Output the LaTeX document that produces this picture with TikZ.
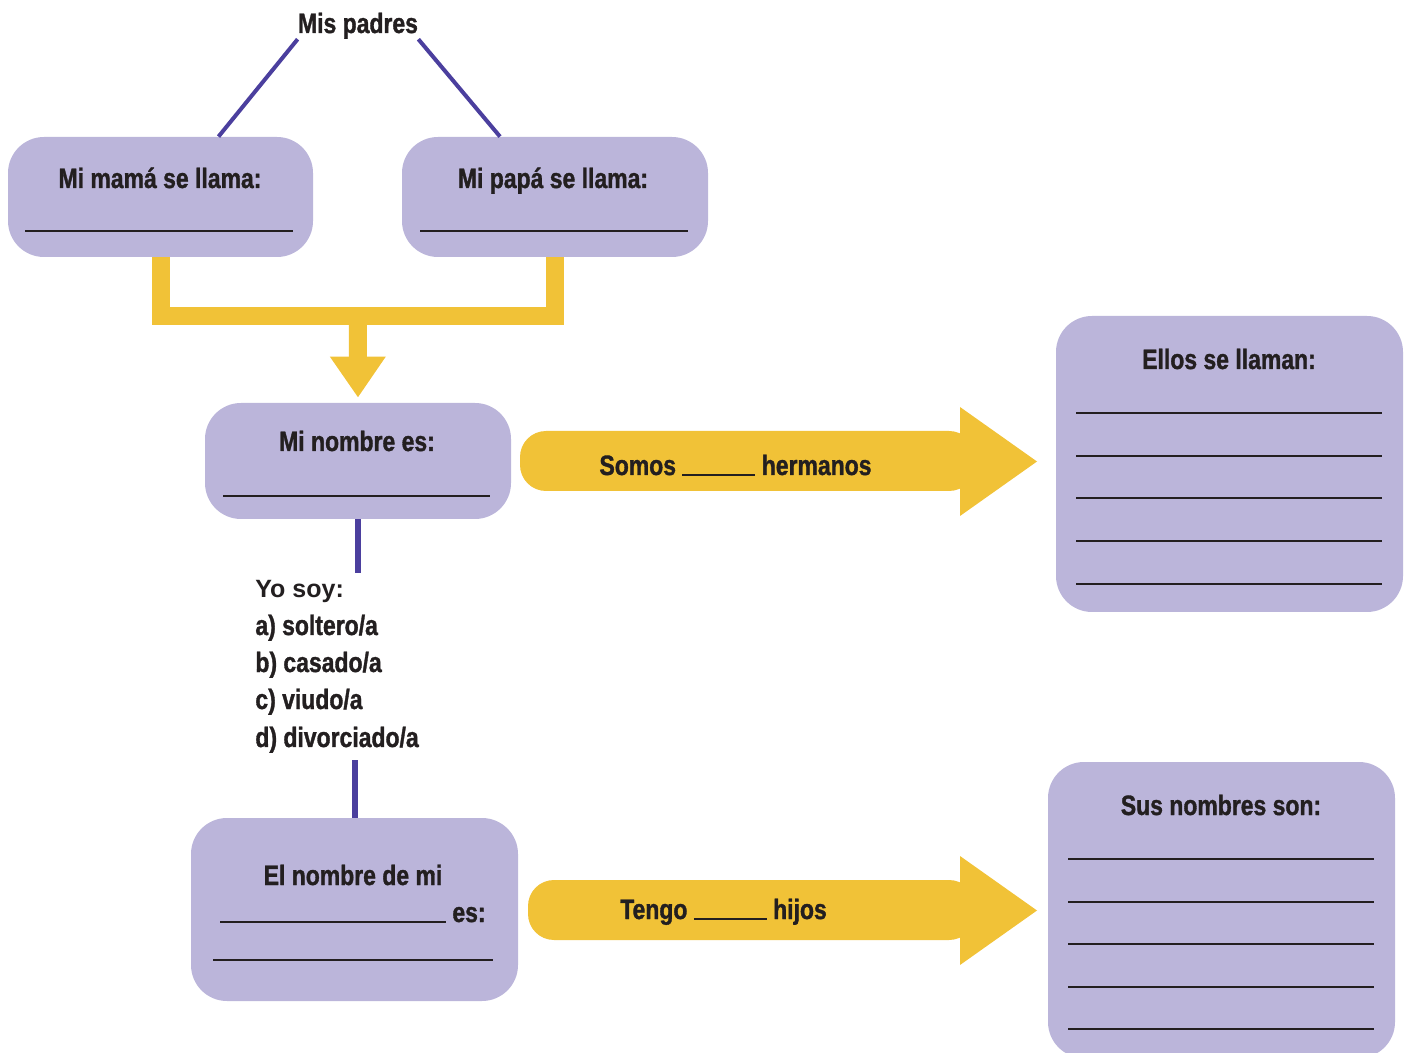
\documentclass[tikz,border=0pt]{standalone}
\usepackage{fontspec}
\setmainfont{Liberation Sans}
\newfontfamily\estrecha{Liberation Sans}[FakeStretch=0.82, BoldFeatures={FakeBold=1.2}]
\usetikzlibrary{positioning,arrows.meta,calc}
\definecolor{lila}{HTML}{BBB5DA}
\definecolor{amarillo}{HTML}{F1C237}
\definecolor{morado}{HTML}{4B3F9E}
\definecolor{tinta}{HTML}{231F20}
\newcommand{\hueco}[1]{\rule[-0.5pt]{#1}{0.9pt}}

\begin{document}
\begin{tikzpicture}[x=0.5pt,y=-0.5pt,
    caja/.style={fill=lila, rounded corners=18pt, inner sep=0pt},
    rotulo/.style={font=\estrecha\bfseries\fontsize{14}{16}\selectfont, text=tinta, inner sep=0pt, anchor=base},
    lista/.style={rotulo, anchor=base west},
    rengl/.style={draw=tinta, line width=0.7pt},
    lazo/.style={draw=morado, line width=2pt},
    tubo/.style={draw=amarillo, line width=9pt}]
  \useasboundingbox (0,0) rectangle (1404,1053);

  % cajas
  \node[caja, minimum width=152.5pt, minimum height=60pt] (mama) at (160.5,197) {};
  \node[caja, minimum width=153pt, minimum height=60pt] (papa) at (555,197) {};
  \node[caja, minimum width=153pt, minimum height=58pt] (nombre) at (358,461) {};
  \node[caja, minimum width=163.5pt, minimum height=91.5pt] (elnombre) at (354.5,909.5) {};
  \node[caja, minimum width=173.5pt, minimum height=148pt] (ellos) at (1229.5,464) {};
  \node[caja, minimum width=173.5pt, minimum height=148pt] (sus) at (1221.5,910) {};

  % textos
  \node[rotulo] (padres) at (358,33) {Mis padres};
  \node[rotulo] (t_mama) at (160,188) {Mi mamá se llama:};
  \node[rotulo] (t_papa) at (553,188) {Mi papá se llama:};
  \node[rotulo] (t_nombre) at (357,451) {Mi nombre es:};
  \node[rotulo] (t_elnombre) at (353,885) {El nombre de mi};
  \node[rotulo, anchor=base east] (t_es) at (486,922) {\hueco{113pt} es:};
  \node[rotulo] (t_ellos) at (1229,369) {Ellos se llaman:};
  \node[rotulo] (t_sus) at (1221,815) {Sus nombres son:};

  \node[lista, font=\bfseries\fontsize{12.5}{15}\selectfont] (yosoy) at (255,597) {Yo soy:};
  \node[lista] (soltero) at (255,635) {a) soltero/a};
  \node[lista] (casado) at (255,672) {b) casado/a};
  \node[lista] (viudo) at (255,709) {c) viudo/a};
  \node[lista] (divorciado) at (255,747) {d) divorciado/a};

  % renglones
  \draw[rengl] (25,231) -- (293,231);
  \draw[rengl] (420,231) -- (688,231);
  \draw[rengl] (223,496) -- (490,496);
  \draw[rengl] (213,960) -- (493,960);
  \foreach \y in {413,456,498,541,584}
    \draw[rengl] (1076,\y) -- (1382,\y);
  \foreach \y in {859,902,944,987,1029}
    \draw[rengl] (1068,\y) -- (1374,\y);

  % lazos morados
  \draw[lazo] (padres.south west) -- ([xshift=29pt]mama.north);
  \draw[lazo] (padres.south east) -- ([xshift=-27.5pt]papa.north);
  \draw[lazo, line width=3pt] (nombre.south) -- ([yshift=3pt]nombre.south |- yosoy.north);
  \draw[lazo, line width=3pt] ([yshift=-3.5pt]divorciado.south -| elnombre.north) -- (elnombre.north);

  % corchete amarillo
  \draw[tubo] (mama.south) -- ++(0,59) -| (papa.south);
  \coordinate (union) at ($(mama.south)!0.5!(papa.south)+(0,59)$);
  \draw[tubo, shorten >=2.5pt, -{Triangle[width=26.5pt,length=20.5pt]}] (union) -- (nombre.north);

  % flechas gordas
  \fill[amarillo, rounded corners=13pt] (520,431) rectangle (975,491);
  \fill[amarillo] (960,407) -- (1037,461.5) -- (960,516) -- cycle;
  \node[rotulo] (somos) at (735.5,475) {Somos \hueco{36.5pt} hermanos};

  \fill[amarillo, rounded corners=13pt] (528,880) rectangle (975,940);
  \fill[amarillo] (960,856) -- (1037,910.5) -- (960,965) -- cycle;
  \node[rotulo] (tengo) at (723.5,919) {Tengo \hueco{36.5pt} hijos};
\end{tikzpicture}
\end{document}
